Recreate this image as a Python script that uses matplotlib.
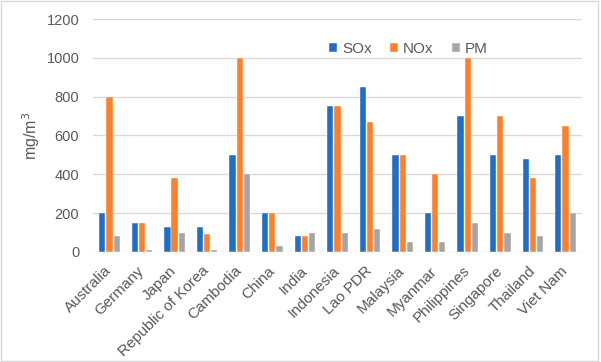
import numpy as np
import matplotlib
matplotlib.use('Agg')
import matplotlib.pyplot as plt
from matplotlib.patches import Rectangle

countries = ['Australia', 'Germany', 'Japan', 'Republic of Korea', 'Cambodia', 'China',
             'India', 'Indonesia', 'Lao PDR', 'Malaysia', 'Myanmar', 'Philippines',
             'Singapore', 'Thailand', 'Viet Nam']
sox = [200, 150, 130, 130, 500, 200, 80, 750, 850, 500, 200, 700, 500, 480, 500]
nox = [800, 150, 380, 95, 1000, 200, 80, 750, 670, 500, 400, 1000, 700, 380, 650]
pm = [80, 10, 100, 10, 400, 30, 100, 100, 120, 50, 50, 150, 100, 80, 200]
y_ticks = [0, 200, 400, 600, 800, 1000, 1200]

plt.rcParams['font.family'] = ['Liberation Sans', 'DejaVu Sans']
grey_text = '#595959'

fig = plt.figure(figsize=(6.01, 3.62), dpi=100)
ax = fig.add_axes([0.155, 0.304, 0.813, 0.6435])

x = np.arange(len(countries))
w = 0.19
ax.bar(x - 0.22, sox, w, color='#1F6FC6', edgecolor='white', linewidth=0.3, label='SOx', zorder=3)
ax.bar(x, nox, w, color='#FF7F2A', edgecolor='white', linewidth=0.3, label='NOx', zorder=3)
ax.bar(x + 0.22, pm, w, color='#A5A5A5', edgecolor='white', linewidth=0.3, label='PM', zorder=3)

ax.set_xlim(-0.5, len(countries) - 0.5)
ax.set_ylim(0, 1200)
ax.set_yticks(y_ticks)
ax.yaxis.grid(True, color='#D9D9D9', linewidth=1, zorder=0)
for s in ax.spines.values():
    s.set_visible(False)
ax.tick_params(length=0, colors=grey_text)
ax.tick_params(axis='y', pad=10, labelsize=10.5)
ax.tick_params(axis='x', pad=12, labelsize=11)
ax.set_xticks(x)
ax.set_xticklabels(countries, rotation=45, ha='right', va='center', rotation_mode='anchor')
ax.set_ylabel('mg/m$^3$', color=grey_text, fontsize=11.5, labelpad=3)

leg = ax.legend(loc='center', bbox_to_anchor=(0.645, 0.872), ncol=3, frameon=False,
                fontsize=11, handlelength=0.55, handleheight=0.55, handletextpad=0.3,
                columnspacing=1.2)
for t in leg.get_texts():
    t.set_color(grey_text)

fig.patches.append(Rectangle((0.002, 0.002), 0.993, 0.994, transform=fig.transFigure,
                             fill=False, edgecolor='#D9D9D9', linewidth=1))

fig.savefig('out.png', dpi=100)
